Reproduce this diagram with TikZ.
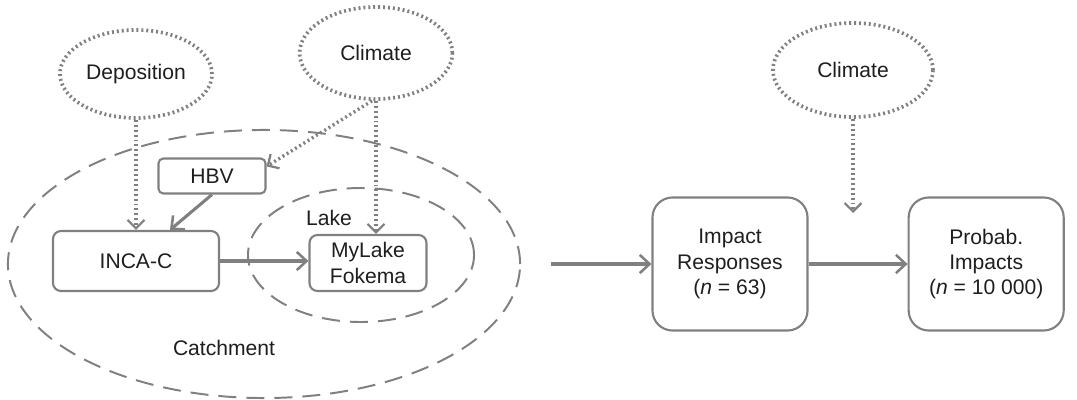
\documentclass[tikz,border=0pt]{standalone}
\usepackage{fontspec}
\setmainfont{Liberation Sans}
\usetikzlibrary{shapes.geometric, arrows.meta, positioning}
\definecolor{linegray}{RGB}{128, 128, 128}
\definecolor{textdark}{RGB}{30, 30, 30}

\begin{document}
\begin{tikzpicture}[
    x=0.025cm, y=-0.025cm,
    font=\fontsize{15}{18}\selectfont, text=textdark,
    driver/.style={ellipse, inner sep=0pt, draw=linegray, line width=2.6pt, dash pattern=on 1.4pt off 2.1pt},
    region/.style={ellipse, inner sep=0pt, draw=linegray, line width=1.4pt, dash pattern=on 0.45cm off 0.25cm},
    model/.style={rectangle, rounded corners=0.2cm, draw=linegray, line width=1.5pt, align=center, inner sep=0pt},
    result/.style={rectangle, rounded corners=0.5cm, draw=linegray, line width=1.5pt, align=center, minimum width=3.875cm, minimum height=3.325cm},
    flow/.style={draw=linegray, line width=2.2pt, -{Straight Barb[length=7pt, width=13pt, line width=1.8pt]}},
    forcing/.style={draw=linegray, line width=2.4pt, dash pattern=on 1.4pt off 2.1pt, -{Straight Barb[length=6pt, width=12pt, line width=1.6pt]}}
]
\useasboundingbox (0,0) rectangle (1077,400);

% containers
\node (catchment) [region, minimum width=12.8cm, minimum height=6.7cm] at (264,264) {};
\node (lake) [region, minimum width=5.65cm, minimum height=3.35cm] at (361,255) {};
\node (lakelbl) at (329,218) {Lake};
\node (catchlbl) at (224,348) {Catchment};

% drivers
\node (deposition) [driver, minimum width=3.8cm, minimum height=2.2cm] at (136,74) {Deposition};
\node (climateA) [driver, minimum width=3.82cm, minimum height=2.3cm] at (376,53) {Climate};
\node (climateB) [driver, minimum width=4cm, minimum height=2.35cm] at (853,70) {Climate};

% models
\node (hbv) [model, rounded corners=0.12cm, minimum width=2.675cm, minimum height=0.875cm] at (212,176) {HBV};
\node (incac) [model, minimum width=4.15cm, minimum height=1.5cm] at (136,261) {INCA-C};
\node (mylake) [model, minimum width=2.925cm, minimum height=1.4cm] at (368,263) {MyLake\\Fokema};

% results
\node (impact) [result] at (730,264) {Impact\\Responses\\(\textit{n} = 63)};
\node (probab) [result, right=2.475cm of impact] {Probab.\\Impacts\\(\textit{n} = 10~000)};
\coordinate (climhit) at (853,213);

\draw [forcing] (deposition.south) -- (incac.north);
\draw [forcing] ([xshift=-0.1cm]climateA.south) -- ([yshift=-0.225cm]hbv.north east);
\draw [forcing] (climateA.south) -- (climateA.south |- mylake.north);
\draw [forcing] (climateB.south) -- (climhit);

\draw [flow] (hbv.south) -- ([xshift=0.85cm]incac.north);
\draw [flow] (incac.east) -- (incac.east -| mylake.west);
\draw [flow] ([xshift=0.75cm]catchment.east) -- (impact.west);
\draw [flow] (impact.east) -- (probab.west);

\end{tikzpicture}
\end{document}
